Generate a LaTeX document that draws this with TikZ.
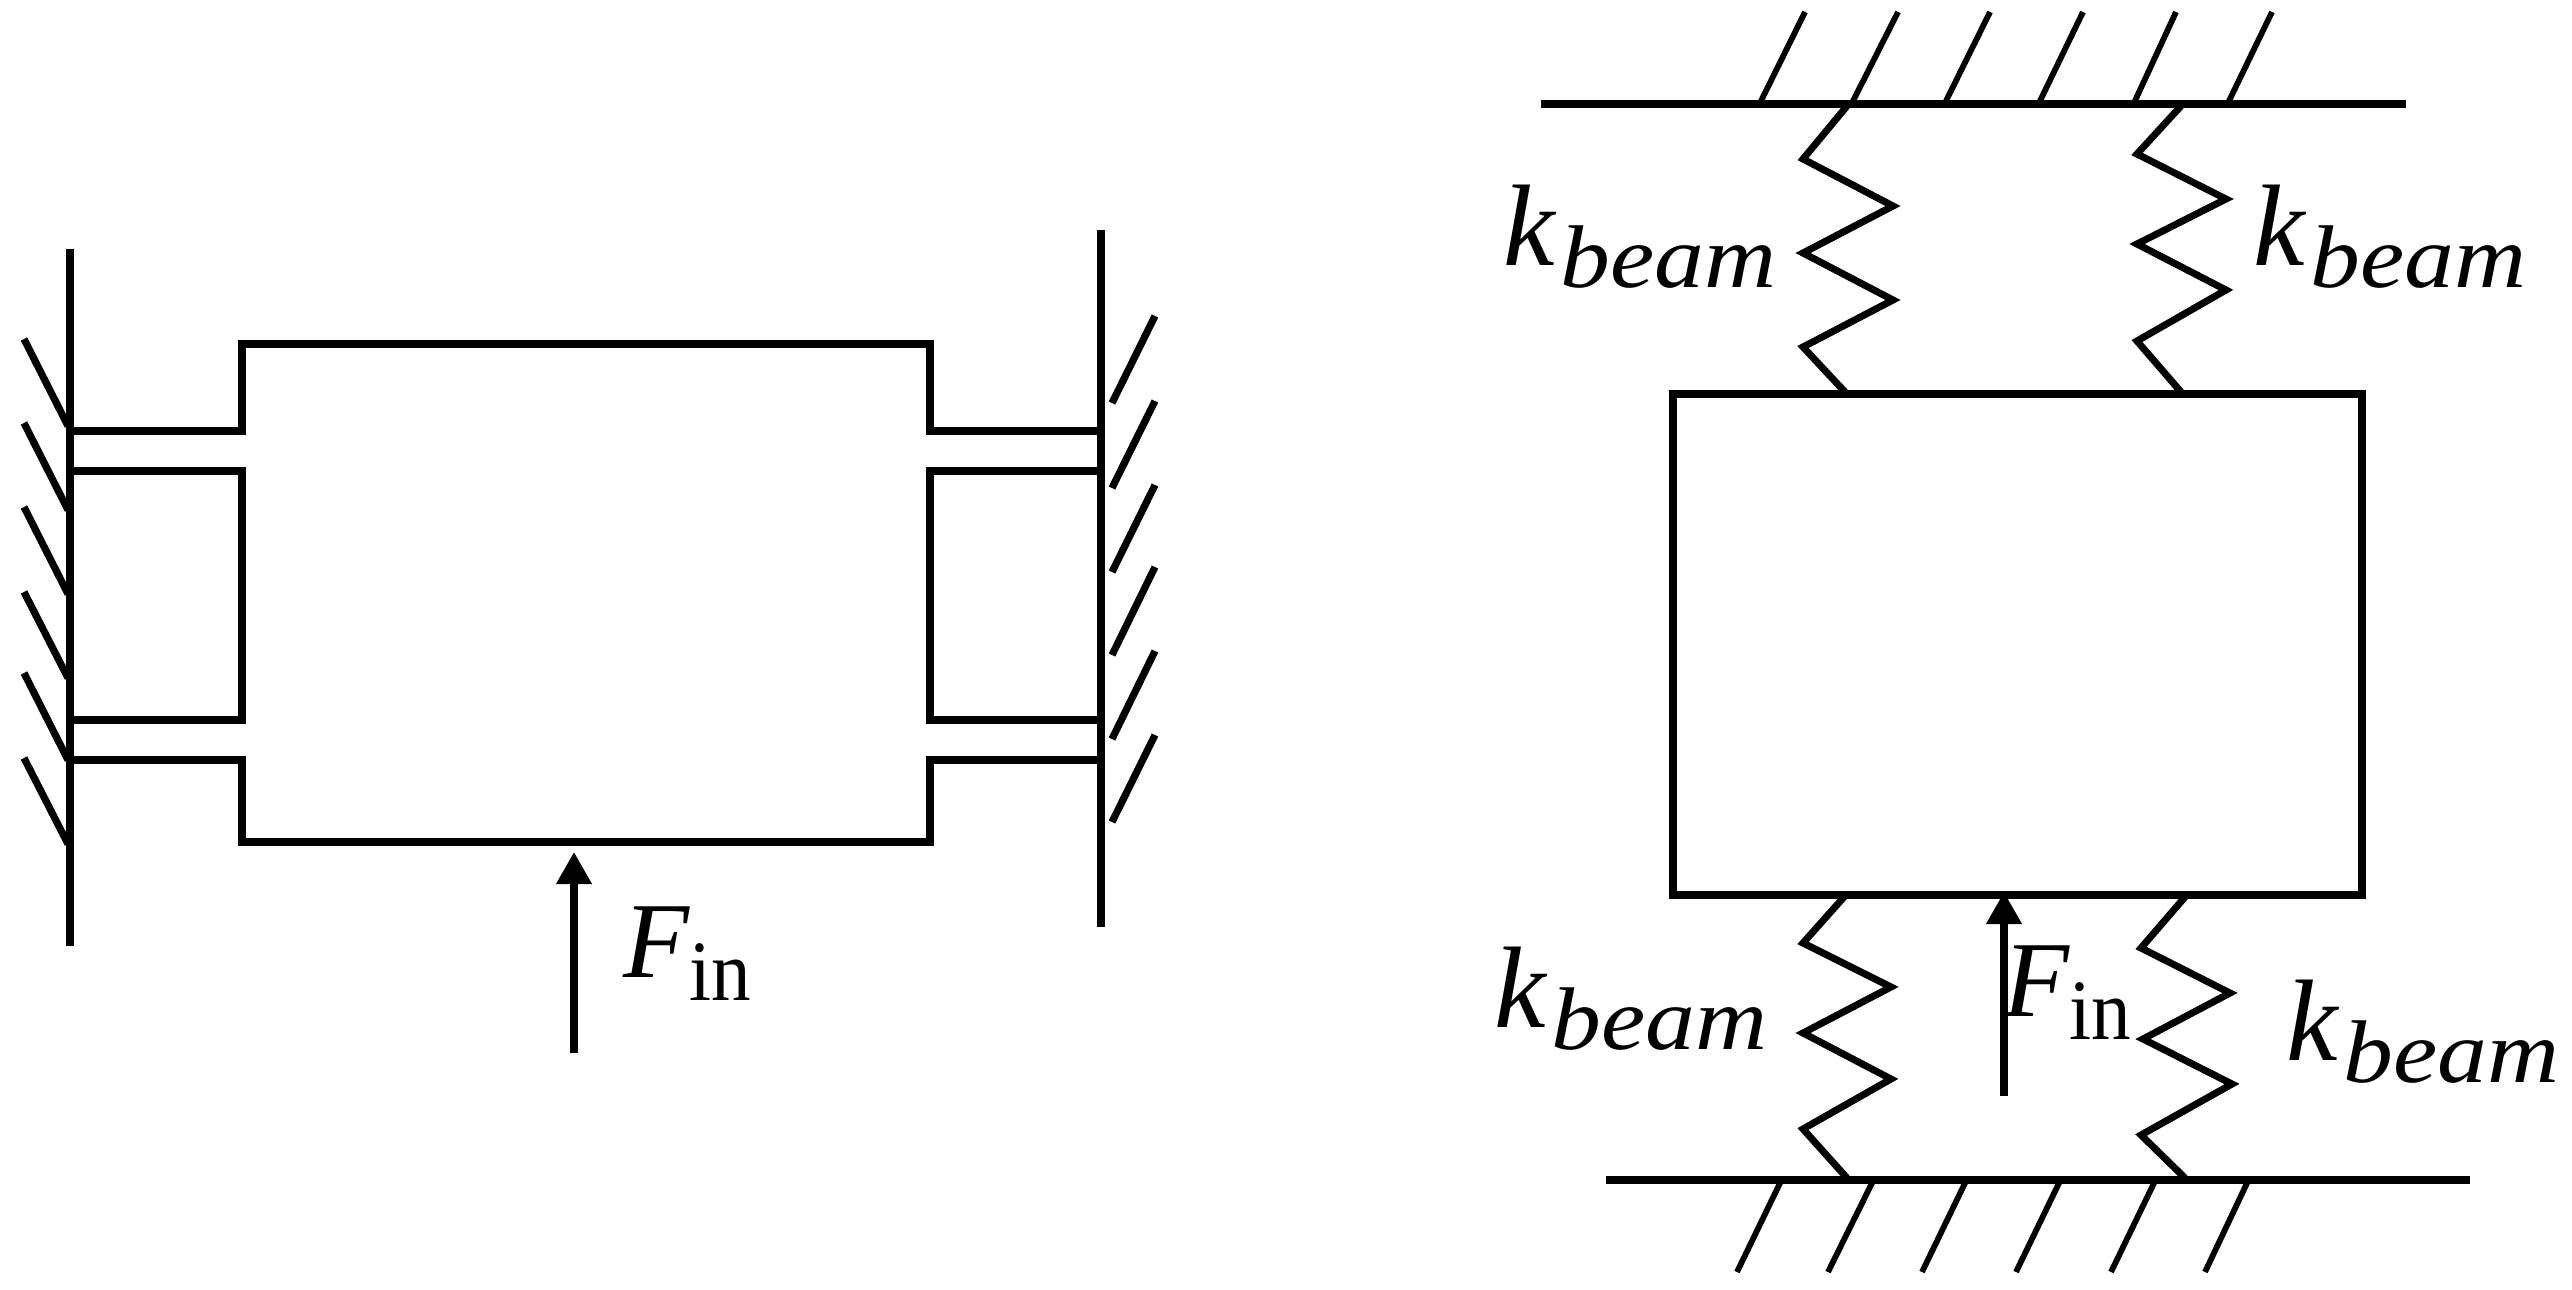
\documentclass[tikz,border=0pt]{standalone}
\usepackage{fontspec}
\usepackage{graphicx}
\setmainfont{Liberation Serif}
\usetikzlibrary{arrows.meta}
\newcommand{\Kb}{\fontsize{58}{58}\selectfont\textit{k}\kern2pt\raisebox{-11pt}{\scalebox{1.12}[1]{\fontsize{44.5}{44.5}\selectfont\textit{beam}}}}
\newcommand{\Fi}{\fontsize{54}{54}\selectfont\textit{F}\kern0pt\raisebox{-11.5pt}{\scalebox{0.92}[1]{\fontsize{43}{43}\selectfont in}}}
\tikzset{
  wall/.style={line width=4.4pt,line cap=butt},
  plate/.style={line width=3.8pt,miter limit=10},
  hatch/.style={line width=3.6pt,line cap=butt},
  thinhatch/.style={line width=2.9pt,line cap=butt},
  spring/.style={line width=3.5pt,line join=miter},
  force/.style={line width=3.6pt,-{Triangle[length=16pt,width=17pt]}},
  label/.style={inner sep=0pt,outer sep=0pt,anchor=base west}
}
\begin{document}
\begin{tikzpicture}[x=0.5pt,y=-0.5pt]
\useasboundingbox (0,0) rectangle (2572,1290);
% left mechanism
\draw[wall] (70,249) -- (70,946);
\draw[wall] (1101,230) -- (1101,927);
\foreach \a/\b in {339/426,423/510,507/594,592/678,673/760,758/844}
  \draw[hatch] (24,\a) -- (68,\b);
\foreach \a/\b in {403/316,488/401,572/485,655/567,739/651,822/735}
  \draw[hatch] (1112,\a) -- (1155,\b);
\draw[plate] (70,431) -- (242,431) -- (242,344) -- (930,344) -- (930,431) -- (1101,431);
\draw[plate] (70,471) -- (242,471) -- (242,720) -- (70,720);
\draw[plate] (1101,471) -- (930,471) -- (930,720) -- (1101,720);
\draw[plate] (70,760) -- (242,760) -- (242,842) -- (930,842) -- (930,760) -- (1101,760);
\coordinate (f1a) at (574,1053);
\coordinate (f1b) at (574,852);
\draw[force] (f1a) -- (f1b);
\node[label] (f1) at (623,977) {\Fi};
% right mechanism
\draw[wall] (1541,104) -- (2406,104);
\draw[wall] (1606,1180) -- (2470,1180);
\foreach \a/\b in {1760/1805,1852/1898,1945/1990,2039/2083,2134/2176,2228/2272}
  \draw[thinhatch] (\a,103) -- (\b,12);
\foreach \a/\b in {1781/1737,1873/1828,1966/1922,2060/2016,2155/2111,2248/2205}
  \draw[thinhatch] (\a,1181) -- (\b,1272);
\draw[line width=3.8pt] (1673,394) rectangle (2362,895);
\draw[spring] (1847,106) -- (1803,159) -- (1893,206) -- (1803,253) -- (1893,300) -- (1803,347) -- (1845,392);
\draw[spring] (2181,106) -- (2137,154) -- (2226,199) -- (2137,244) -- (2226,290) -- (2137,341) -- (2181,392);
\draw[spring] (1844,897) -- (1803,943) -- (1891,987) -- (1803,1033) -- (1891,1079) -- (1803,1129) -- (1847,1178);
\draw[spring] (2185,897) -- (2141,948) -- (2230,993) -- (2143,1039) -- (2232,1084) -- (2141,1135) -- (2185,1178);
\coordinate (f2a) at (2004,1096);
\coordinate (f2b) at (2004,892);
\draw[force] (f2a) -- (f2b);
\node[label] (f2) at (2003,1016) {\Fi};
\node[label] (k1) at (1503,265) {\Kb};
\node[label] (k2) at (2253,265) {\Kb};
\node[label] (k3) at (1494,1027) {\Kb};
\node[label] (k4) at (2286,1060) {\Kb};
\end{tikzpicture}
\end{document}
